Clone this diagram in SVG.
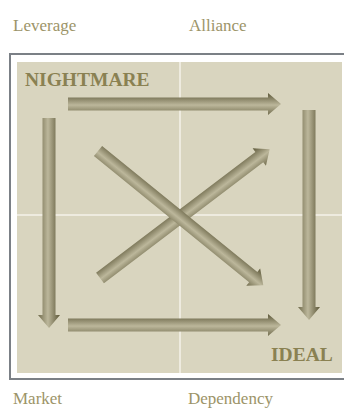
<svg xmlns="http://www.w3.org/2000/svg" width="344" height="409" viewBox="0 0 344 409">
<defs>
<linearGradient id="shade" x1="0" y1="0" x2="0" y2="1">
<stop offset="0" stop-color="#5c5738"/>
<stop offset="0.55" stop-color="#bcb79b"/>
<stop offset="1" stop-color="#716c4d"/>
</linearGradient>
<path id="a213" d="M0,-6.5 H200 V-11 L213,0 L200,11 V6.5 H0 Z"/>
<path id="a210" d="M0,-6.5 H197 V-11 L210,0 L197,11 V6.5 H0 Z"/>
</defs>
<style>
.lbl{font-family:"Liberation Serif","DejaVu Serif",serif;font-size:17px;fill:#9c9468}
.big{font-family:"Liberation Serif","DejaVu Serif",serif;font-size:19.5px;font-weight:bold;fill:#8a8152}
.arr{fill:url(#shade)}
</style>
<rect x="0" y="0" width="344" height="409" fill="#ffffff"/>
<g id="frame">
<rect x="10" y="54" width="340" height="325" fill="#ffffff" stroke="#7b8086" stroke-width="2"/>
<rect x="17" y="62" width="325" height="311" fill="#d9d5bf"/>
<line x1="180" y1="62" x2="180" y2="373" stroke="#f4f2ea" stroke-width="1.5"/>
<line x1="17" y1="215" x2="342" y2="215" stroke="#f4f2ea" stroke-width="1.5"/>
</g>
<g id="labels">
<text class="lbl" x="13" y="31">Leverage</text>
<text class="lbl" x="189" y="31">Alliance</text>
<text class="lbl" x="13" y="404">Market</text>
<text class="lbl" x="188" y="404">Dependency</text>
</g>
<g id="nightmare">
<text class="big" x="25" y="86">NIGHTMARE</text>
</g>
<g id="ideal">
<text class="big" x="271" y="361">IDEAL</text>
</g>
<g id="connectors">
<use href="#a213" class="arr" transform="translate(68,104)"/>
<use href="#a213" class="arr" transform="translate(68,325)"/>
<use href="#a210" class="arr" transform="translate(49,118) rotate(90)"/>
<use href="#a210" class="arr" transform="translate(309,110) rotate(90)"/>
<use href="#a213" class="arr" transform="translate(100,278) rotate(-37.2)"/>
<use href="#a213" class="arr" transform="translate(98,151) rotate(39.1)"/>
</g>
</svg>
